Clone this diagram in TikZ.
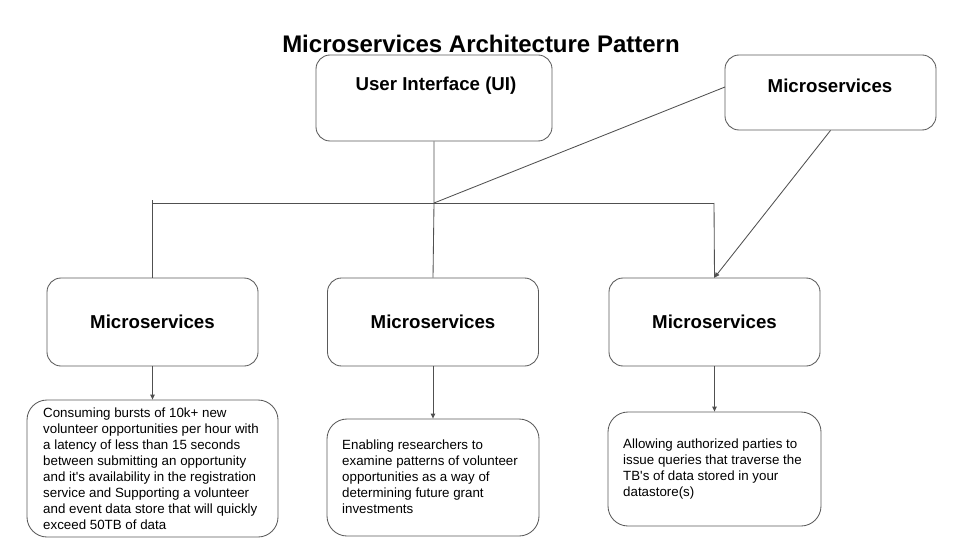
\documentclass[tikz,border=0pt]{standalone}
\usepackage{fontspec}
\setmainfont{Liberation Sans}
\usetikzlibrary{arrows.meta}
\definecolor{linec}{RGB}{80,80,80}
\definecolor{boxc}{RGB}{90,90,90}
\begin{document}
\begin{tikzpicture}[x=1pt,y=-1pt,
  svcbox/.style={draw=boxc,line width=0.85pt,rounded corners=14pt,inner sep=0pt,
    minimum width=211pt,minimum height=88pt,
    font=\fontsize{18.67}{22}\selectfont\bfseries},
  descbox/.style={draw=boxc,line width=0.85pt,rounded corners=20pt,inner sep=0pt},
  desctext/.style={anchor=west,align=left,inner sep=0pt,
    font=\fontsize{13.33}{16}\selectfont},
  lbl/.style={inner sep=0pt,font=\fontsize{18.67}{22}\selectfont\bfseries},
  conn/.style={draw=linec,line width=0.85pt},
  arr/.style={conn,-{Triangle[length=5pt,width=4.5pt]}}]
\useasboundingbox (0,0) rectangle (960,540);

% title
\node[inner sep=0pt,font=\fontsize{24}{28}\selectfont\bfseries] (title) at (481,44) {Microservices Architecture Pattern};

% top boxes
\node[svcbox,minimum width=236pt,minimum height=86pt] (ui) at (434,98) {};
\node[lbl] (uitext) at (436,86) {User Interface (UI)};
\node[svcbox,minimum width=211pt,minimum height=75pt] (tr) at (830.5,92.5) {};
\node[lbl] (trtext) at (830,86) {Microservices};

% middle boxes
\node[svcbox] (m1) at (152.5,322) {Microservices};
\node[svcbox] (m2) at (433,322) {Microservices};
\node[svcbox] (m3) at (714.5,322) {Microservices};

% description boxes
\node[descbox,minimum width=251pt,minimum height=137pt] (d1) at (152.5,468.5) {};
\node[desctext] (d1t) at (43,469) {Consuming bursts of 10k+ new\\volunteer opportunities per hour with\\a latency of less than 15 seconds\\between submitting an opportunity\\and it\textquotesingle s availability in the registration\\service and Supporting a volunteer\\and event data store that will quickly\\exceed 50TB of data};
\node[descbox,minimum width=212pt,minimum height=117pt] (d2) at (433,477.5) {};
\node[desctext] (d2t) at (342,477) {Enabling researchers to\\examine patterns of volunteer\\opportunities as a way of\\determining future grant\\investments};
\node[descbox,minimum width=213pt,minimum height=114pt] (d3) at (714.5,469) {};
\node[desctext] (d3t) at (623,469) {Allowing authorized parties to\\issue queries that traverse the\\TB\textquotesingle s of data stored in your\\datastore(s)};

% bus coordinates
\coordinate (tick) at (152.5,200);
\coordinate (busL) at (152.5,203);
\coordinate (busC) at (434,203);
\coordinate (busR) at (714,203);
\coordinate (trL) at (725,87);

% connectors
\draw[conn] (tick) -- (m1.north);
\draw[conn] (busL) -- (busR);
\draw[conn] (ui.south) -- (busC) -- (m2.north);
\draw[conn] (busR) -- (m3.north);
\draw[conn] (trL) -- (busC);
\draw[arr] (tr.south) -- (m3.north);
\draw[arr] (m1.south) -- (d1.north);
\draw[arr] (m2.south) -- (d2.north);
\draw[arr] (m3.south) -- (d3.north);
\end{tikzpicture}
\end{document}
